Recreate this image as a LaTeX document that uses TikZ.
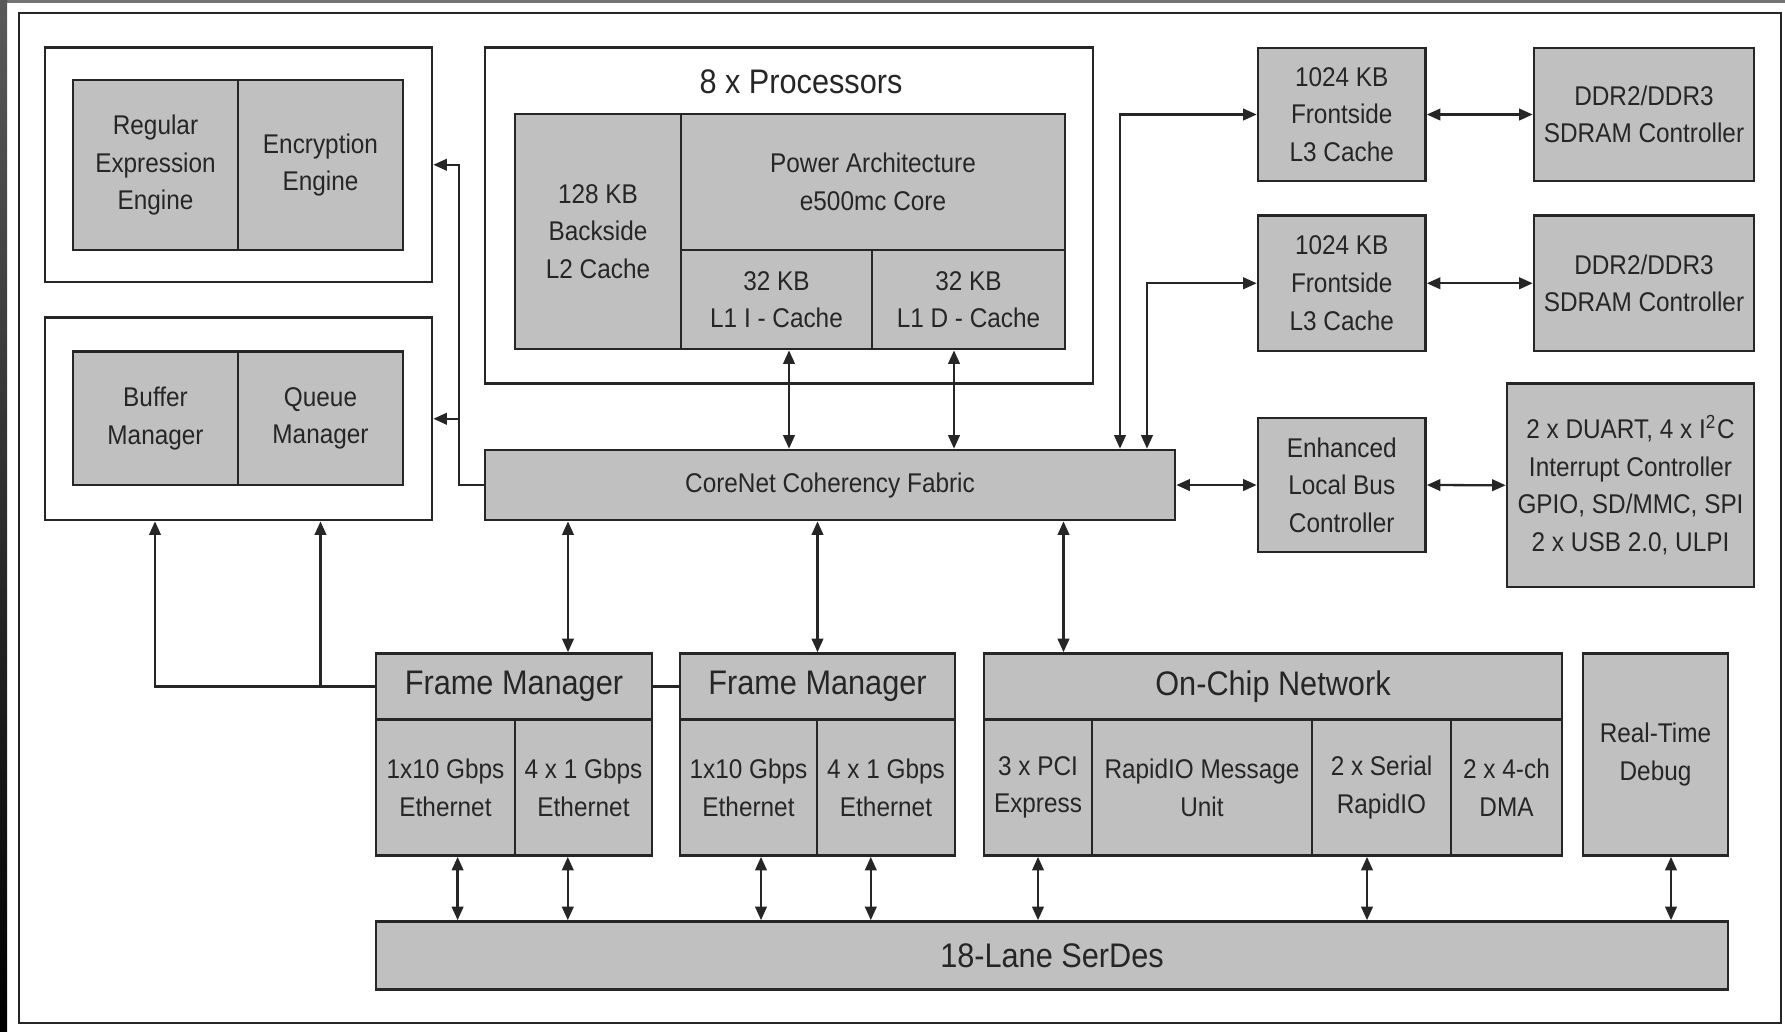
\documentclass[tikz,border=0pt]{standalone}
\usepackage{fontspec}
\setmainfont{Liberation Sans}[FakeStretch=0.9]
\usetikzlibrary{arrows.meta,fit}
\definecolor{blkgray}{RGB}{192,192,192}
\definecolor{inkgray}{RGB}{38,38,38}

\begin{document}
\begin{tikzpicture}[x=0.1mm, y=-0.1mm, >={Triangle[length=1.35mm,width=1.15mm]},
  txt/.style={align=center, inner sep=0pt, text=black!85, font=\fontsize{7.7}{10.7}\selectfont},
  bigtxt/.style={txt, font=\fontsize{9.7}{12}\selectfont},
  blk/.style={draw=inkgray, line width=0.75pt, fill=blkgray, inner sep=0pt, label={[txt]center:#1}},
  hdr/.style={draw=inkgray, line width=0.75pt, fill=blkgray, inner sep=0pt, label={[bigtxt]center:#1}},
  grp/.style={draw=inkgray, line width=0.75pt, fill=white, inner sep=0pt},
  wire/.style={draw=inkgray, line width=0.65pt}]
\useasboundingbox (0,0) rectangle (1785,1031);
% screen edge and outer frame
\fill[black!55] (0,0) rectangle (1785,3);
\shade[top color=black!65, bottom color=black] (0,0) rectangle (7,1031);
\draw[inkgray, line width=0.8pt] (19,13) rectangle (1781,1023);
% accelerators and buffer/queue groups
\node[grp, fit={(45,47.5) (432,282)}] (secgrp) {};
\node[blk={Regular\\Expression\\Engine}, fit={(73,80) (238,250)}] (regex) {};
\node[blk={Encryption\\Engine}, fit={(238,80) (403,250)}] (crypto) {};
\node[grp, fit={(45,317.5) (432,520)}] (qmgrp) {};
\node[blk={Buffer\\Manager}, fit={(73,351.5) (238,485)}] (bman) {};
\node[blk={Queue\\Manager}, fit={(238,351.5) (403,485)}] (qman) {};
% processor cluster
\node[grp, fit={(485,47.5) (1093,383.5)}] (procgrp) {};
\node[bigtxt] (proctitle) at (801,82) {8 x Processors};
\node[blk={128 KB\\Backside\\L2 Cache}, fit={(515,114) (681,349)}] (l2) {};
\node[blk={Power Architecture\\e500mc Core}, fit={(681,114) (1065,250)}] (core) {};
\node[blk={32 KB\\L1 I - Cache}, fit={(681,250) (872,349)}] (l1i) {};
\node[blk={32 KB\\L1 D - Cache}, fit={(872,250) (1065,349)}] (l1d) {};
\node[blk={CoreNet Coherency Fabric}, fit={(485,450) (1175,520)}] (corenet) {};
% memory side and local bus
\node[blk={1024 KB\\Frontside\\L3 Cache}, fit={(1258,48) (1425.5,181)}] (l3a) {};
\node[blk={DDR2/DDR3\\SDRAM Controller}, fit={(1534,48) (1754,181)}] (ddra) {};
\node[blk={1024 KB\\Frontside\\L3 Cache}, fit={(1258,215.5) (1425.5,351)}] (l3b) {};
\node[blk={DDR2/DDR3\\SDRAM Controller}, fit={(1534,215.5) (1754,351)}] (ddrb) {};
\node[blk={Enhanced\\Local Bus\\Controller}, fit={(1258,418) (1425.5,552)}] (elbc) {};
\node[blk={{2 x DUART, 4 x I\textsuperscript{2}C\\Interrupt Controller\\GPIO, SD/MMC, SPI\\2 x USB 2.0, ULPI}}, fit={(1507,383.5) (1754,587)}] (misc) {};
% frame managers
\node[hdr={Frame Manager}, fit={(376,653.5) (652,719.5)}] (fm1) {};
\node[blk={1x10 Gbps\\Ethernet}, fit={(376,719.5) (515,855.5)}] (fm1a) {};
\node[blk={4 x 1 Gbps\\Ethernet}, fit={(515,719.5) (652,855.5)}] (fm1b) {};
\node[hdr={Frame Manager}, fit={(680,653.5) (955,719.5)}] (fm2) {};
\node[blk={1x10 Gbps\\Ethernet}, fit={(680,719.5) (817,855.5)}] (fm2a) {};
\node[blk={4 x 1 Gbps\\Ethernet}, fit={(817,719.5) (955,855.5)}] (fm2b) {};
% on-chip network, debug, serdes
\node[hdr={On-Chip Network}, fit={(984,653.5) (1562,719.5)}] (ocn) {};
\node[blk={3 x PCI\\Express}, fit={(984,719.5) (1092,855.5)}] (pci) {};
\node[blk={RapidIO Message\\Unit}, fit={(1092,719.5) (1312,855.5)}] (rmu) {};
\node[blk={2 x Serial\\RapidIO}, fit={(1312,719.5) (1451,855.5)}] (srio) {};
\node[blk={2 x 4-ch\\DMA}, fit={(1451,719.5) (1562,855.5)}] (dma) {};
\node[blk={Real-Time\\Debug}, fit={(1583,653.5) (1728,855.5)}] (debug) {};
\node[hdr={18-Lane SerDes}, fit={(376,921.5) (1728,989.5)}] (serdes) {};
% CoreNet to accelerators and managers
\draw[wire, ->] (corenet.west) -- (459,0 |- corenet.west) |- (secgrp.east);
\draw[wire, ->] (459,0 |- qmgrp.east) -- (qmgrp.east);
\draw[wire, ->] (fm1.west) -| (155,0 |- qmgrp.south);
\draw[wire, ->] (320.5,0 |- fm1.west) -- (320.5,0 |- qmgrp.south);
\draw[wire] (fm1.east) -- (fm2.west);
% cores to CoreNet
\draw[wire, <->] (789,0 |- l1i.south) -- (789,0 |- corenet.north);
\draw[wire, <->] (954,0 |- l1d.south) -- (954,0 |- corenet.north);
% CoreNet to L3, memory and local bus
\draw[wire, <->] (1120,0 |- corenet.north) |- (l3a.west);
\draw[wire, <->] (1147,0 |- corenet.north) |- (l3b.west);
\draw[wire, <->] (l3a.east) -- (ddra.west);
\draw[wire, <->] (l3b.east) -- (ddrb.west);
\draw[wire, <->] (corenet.east) -- (elbc.west);
\draw[wire, <->] (elbc.east) -- (misc.west);
% CoreNet down to frame managers and OCN
\draw[wire, <->] (568,0 |- corenet.south) -- (568,0 |- fm1.north);
\draw[wire, <->] (fm2.north |- corenet.south) -- (fm2.north);
\draw[wire, <->] (1063.5,0 |- corenet.south) -- (1063.5,0 |- ocn.north);
% links to SerDes
\draw[wire, <->] (457.6,0 |- fm1a.south) -- (457.6,0 |- serdes.north);
\draw[wire, <->] (567.8,0 |- fm1b.south) -- (567.8,0 |- serdes.north);
\draw[wire, <->] (761,0 |- fm2a.south) -- (761,0 |- serdes.north);
\draw[wire, <->] (870.8,0 |- fm2b.south) -- (870.8,0 |- serdes.north);
\draw[wire, <->] (pci.south) -- (pci.south |- serdes.north);
\draw[wire, <->] (1367,0 |- srio.south) -- (1367,0 |- serdes.north);
\draw[wire, <->] (1671,0 |- debug.south) -- (1671,0 |- serdes.north);
\end{tikzpicture}
\end{document}
